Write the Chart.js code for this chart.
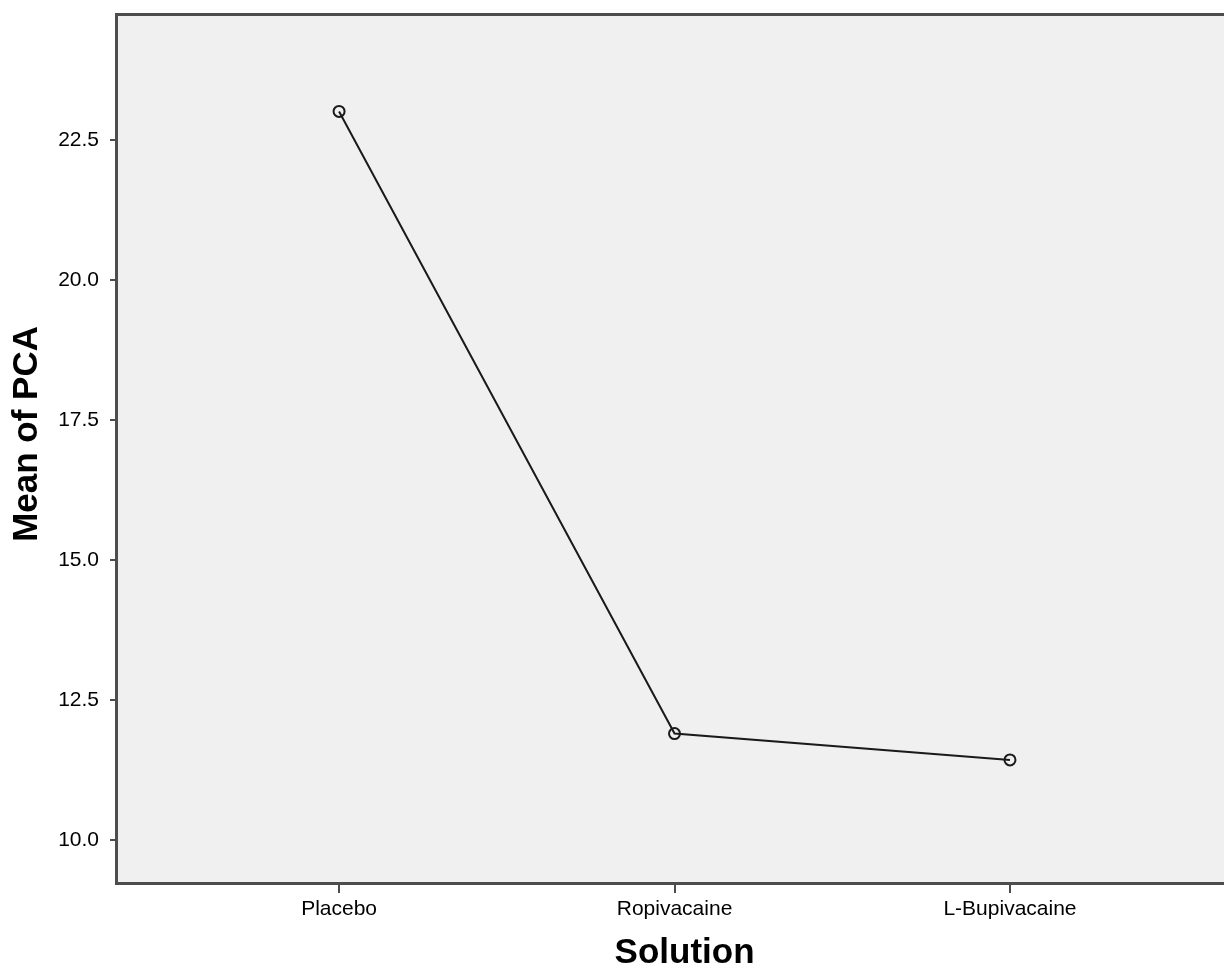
<!DOCTYPE html>
<html>
<head>
<meta charset="utf-8">
<script src="https://cdn.jsdelivr.net/npm/chart.js@4.4.1/dist/chart.umd.min.js"></script>
<style>
  html, body { margin: 0; padding: 0; background: #ffffff; }
  #wrap { width: 1224px; height: 971px; position: relative; }
</style>
</head>
<body>
<div id="wrap"><canvas id="c" width="1224" height="971"></canvas></div>
<script>
// ---- data ----
const categories = ["Placebo", "Ropivacaine", "L-Bupivacaine"];
const meanPCA = [23.01, 11.90, 11.43];
const yTickValues = [10.0, 12.5, 15.0, 17.5, 20.0, 22.5];
const xTitle = "\u00a0\u00a0\u00a0Solution";
const yTitle = "\u00a0\u00a0\u00a0Mean of PCA";

const FONT = "'Liberation Sans', Arial, Helvetica, sans-serif";
const AXIS = "#4d4d4d";

const points = categories.map((c, i) => ({ x: i, y: meanPCA[i] }));

const plotBg = {
  id: 'plotBg',
  beforeDraw(chart) {
    const { ctx, chartArea: a } = chart;
    ctx.save();
    ctx.fillStyle = '#f0f0f0';
    ctx.fillRect(a.left, a.top, a.right - a.left, a.bottom - a.top);
    ctx.restore();
  }
};

function noPad(scale) {
  scale.paddingTop = 0; scale.paddingBottom = 0;
  scale.paddingLeft = 0; scale.paddingRight = 0;
}

new Chart(document.getElementById('c'), {
  type: 'line',
  data: {
    datasets: [{
      data: points,
      borderColor: '#1a1a1a',
      borderWidth: 2,
      pointStyle: 'circle',
      pointRadius: 5.5,
      pointBorderWidth: 2,
      pointBorderColor: '#1a1a1a',
      pointBackgroundColor: 'rgba(0,0,0,0)',
      tension: 0,
      fill: false
    }]
  },
  options: {
    responsive: false,
    animation: false,
    events: [],
    layout: { autoPadding: false, padding: { top: 0, right: 0, bottom: 0, left: 0 } },
    plugins: { legend: { display: false }, tooltip: { enabled: false } },
    scales: {
      x: {
        type: 'linear',
        position: 'bottom',
        min: -0.665,
        max: 2.638,
        afterBuildTicks(scale) { scale.ticks = categories.map((c, i) => ({ value: i })); },
        afterFit(scale) { scale.height = 88; noPad(scale); },
        ticks: {
          callback: (v) => categories[v],
          font: { family: FONT, size: 21 },
          color: '#000',
          padding: 4,
          maxRotation: 0,
          autoSkip: false
        },
        grid: { display: true, drawOnChartArea: false, drawTicks: true, tickLength: 10, color: AXIS, lineWidth: 2 },
        border: { display: true, color: AXIS, width: 3 },
        title: {
          display: true, text: xTitle, color: '#000',
          font: { family: FONT, size: 35, weight: 'bold', lineHeight: 1 },
          padding: { top: 0, bottom: 0 }
        }
      },
      xTop: {
        type: 'linear',
        position: 'top',
        min: -0.665,
        max: 2.638,
        afterFit(scale) { scale.height = 14; noPad(scale); },
        ticks: { display: false },
        grid: { display: true, drawOnChartArea: false, drawTicks: false, color: AXIS },
        border: { display: true, color: AXIS, width: 3 }
      },
      y: {
        type: 'linear',
        position: 'left',
        min: 9.232,
        max: 24.75,
        afterBuildTicks(scale) { scale.ticks = yTickValues.map(v => ({ value: v })); },
        afterFit(scale) { scale.width = 116; noPad(scale); },
        ticks: {
          callback: (v) => Number(v).toFixed(1),
          font: { family: FONT, size: 21 },
          color: '#000',
          padding: 11
        },
        grid: { display: true, drawOnChartArea: false, drawTicks: true, tickLength: 6, color: AXIS, lineWidth: 2 },
        border: { display: true, color: AXIS, width: 3 },
        title: {
          display: true, text: yTitle, color: '#000',
          font: { family: FONT, size: 35, weight: 'bold', lineHeight: 1 },
          padding: { top: 10, bottom: 0 }
        }
      }
    }
  },
  plugins: [plotBg]
});
</script>
</body>
</html>
